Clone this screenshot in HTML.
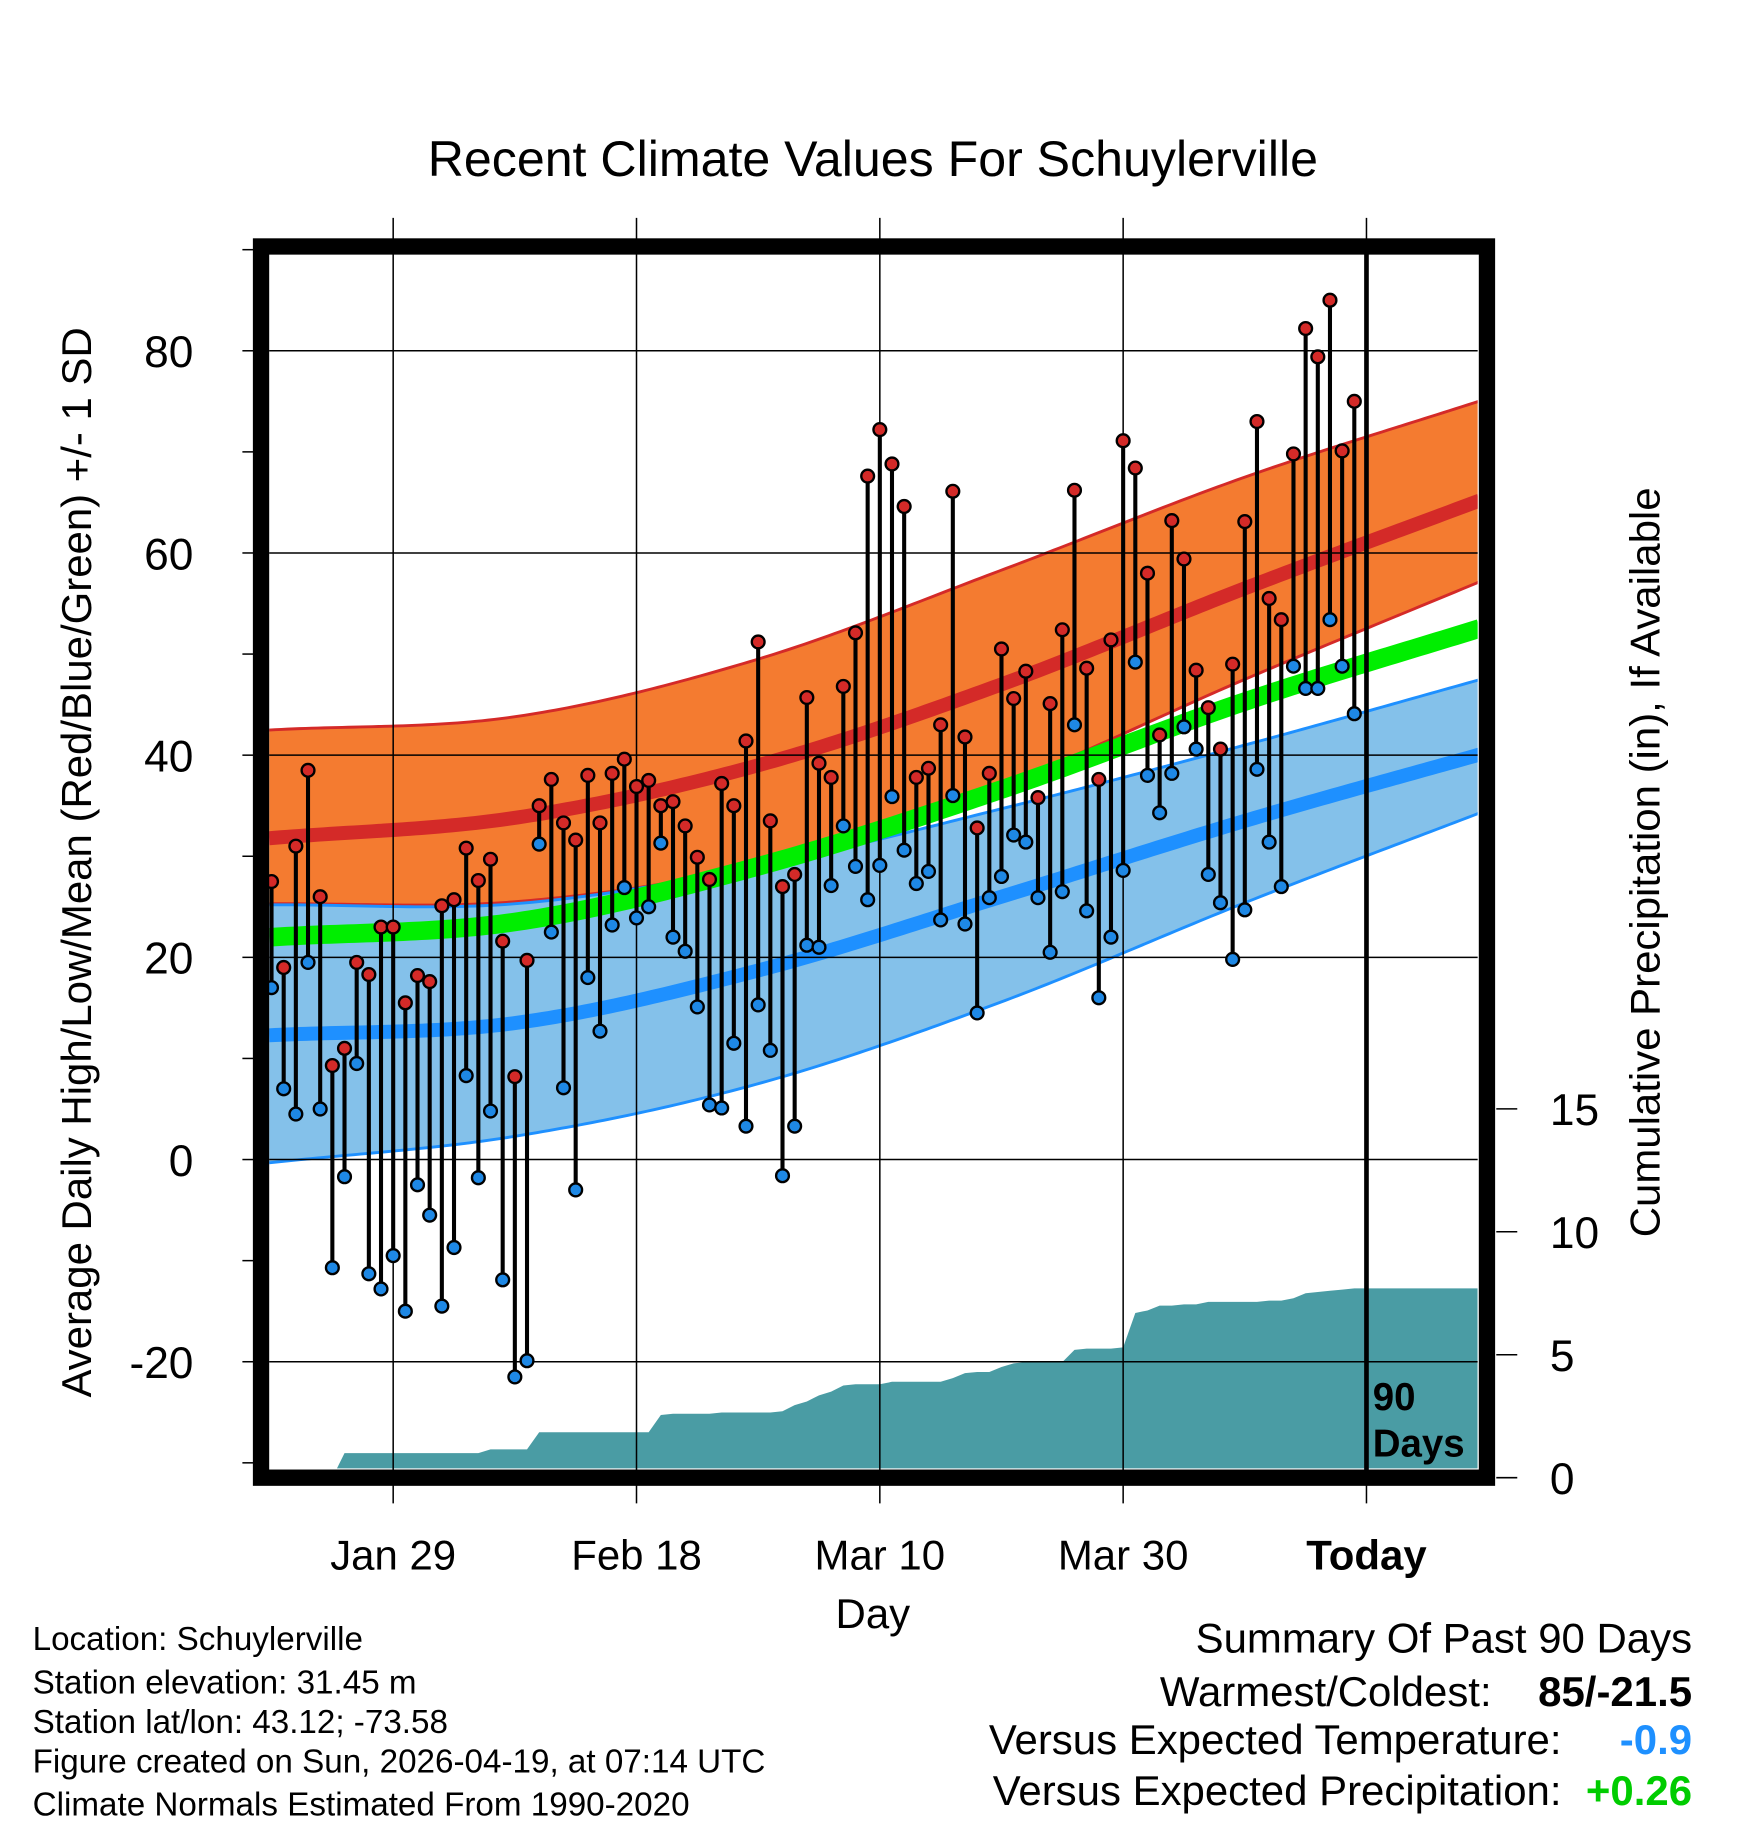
<!DOCTYPE html>
<html><head><meta charset="utf-8"><style>
html,body{margin:0;padding:0;background:#fff}
svg{display:block}
text{font-family:"Liberation Sans",sans-serif}
</style></head><body>
<svg id="chart" width="1748" height="1828" viewBox="0 0 1500 1568.6" preserveAspectRatio="none" xmlns="http://www.w3.org/2000/svg">
<g id="bg"></g>
<g id="marks"></g>
<g id="frame"></g>
<text x="749" y="151" font-size="43" text-anchor="middle">Recent Climate Values For Schuylerville</text>
<text transform="translate(78,740) rotate(-90)" font-size="36" text-anchor="middle">Average Daily High/Low/Mean (Red/Blue/Green) +/- 1 SD</text>
<text transform="translate(1424,740) rotate(-90)" font-size="36" text-anchor="middle">Cumulative Precipitation (in), If Available</text>
<text x="749" y="1397" font-size="36" text-anchor="middle">Day</text>
<text x="1178" y="1210" font-size="33" font-weight="bold">90</text>
<text x="1178" y="1250" font-size="33" font-weight="bold">Days</text>
<g font-size="28.5">
<text x="28" y="1416">Location: Schuylerville</text>
<text x="28" y="1453">Station elevation: 31.45 m</text>
<text x="28" y="1487">Station lat/lon: 43.12; -73.58</text>
<text x="28" y="1521">Figure created on Sun, 2026-04-19, at 07:14 UTC</text>
<text x="28" y="1558">Climate Normals Estimated From 1990-2020</text>
</g>
<g font-size="36">
<text x="1452" y="1418" text-anchor="end">Summary Of Past 90 Days</text>
<text x="1280" y="1464" text-anchor="end">Warmest/Coldest:</text>
<text x="1452" y="1464" text-anchor="end" font-weight="bold">85/-21.5</text>
<text x="1340" y="1505" text-anchor="end">Versus Expected Temperature:</text>
<text x="1452" y="1505" text-anchor="end" font-weight="bold" fill="#1e90ff">-0.9</text>
<text x="1340" y="1549" text-anchor="end">Versus Expected Precipitation:</text>
<text x="1452" y="1549" text-anchor="end" font-weight="bold" fill="#00cc00">+0.26</text>
</g>
</svg>
<script>
const highs=[27.5,19,31,38.5,26,9.3,11,19.5,18.3,23,23,15.5,18.2,17.6,25.1,25.7,30.8,27.6,29.7,21.6,8.2,19.7,35,37.6,33.3,31.6,38,33.3,38.2,39.6,36.9,37.5,35,35.4,33,29.9,27.7,37.2,35,41.4,51.2,33.5,27,28.2,45.7,39.2,37.8,46.8,52.1,67.6,72.2,68.8,64.6,37.8,38.7,43,66.1,41.8,32.8,38.2,50.5,45.6,48.3,35.8,45.1,52.4,66.2,48.6,37.6,51.4,71.1,68.4,58,42,63.2,59.4,48.4,44.7,40.6,49,63.1,73,55.5,53.4,69.8,82.2,79.4,85,70.1,75];
const lows=[17,7,4.5,19.5,5,-10.7,-1.7,9.5,-11.3,-12.8,-9.5,-15,-2.5,-5.5,-14.5,-8.7,8.3,-1.8,4.8,-11.9,-21.5,-19.9,31.2,22.5,7.1,-3,18,12.7,23.2,26.9,23.9,25,31.3,22,20.6,15.1,5.4,5.1,11.5,3.3,15.3,10.8,-1.6,3.3,21.2,21,27.1,33,29,25.7,29.1,35.9,30.6,27.3,28.5,23.7,36,23.3,14.5,25.9,28,32.1,31.4,25.9,20.5,26.5,43,24.6,16,22,28.6,49.2,38,34.3,38.2,42.8,40.6,28.2,25.4,19.8,24.7,38.6,31.4,27,48.8,46.6,46.6,53.4,48.8,44.1];
const precip=[0,0,0,0,0,0,1,1,1,1,1,1,1,1,1,1,1,1,1.15,1.15,1.15,1.15,1.85,1.85,1.85,1.85,1.85,1.85,1.85,1.85,1.85,1.85,2.55,2.6,2.6,2.6,2.6,2.65,2.65,2.65,2.65,2.65,2.7,2.95,3.1,3.35,3.5,3.75,3.8,3.8,3.8,3.9,3.9,3.9,3.9,3.9,4.05,4.25,4.3,4.3,4.5,4.65,4.7,4.7,4.7,4.7,5.2,5.25,5.25,5.25,5.3,6.7,6.8,7,7,7.05,7.05,7.15,7.15,7.15,7.15,7.15,7.2,7.2,7.3,7.5,7.55,7.6,7.65,7.7];
const normDays=[0,20,40,60,80,100];
const highMean=[31.8,33.8,39,47,56.5,65.5];
const highUp=[42.5,43.8,49.5,58.3,67.5,75.3];
const highLo=[25.3,25.5,29.2,37,47.5,57.5];
const avgMean=[22,23.5,29,36.6,45.3,52.8];
const lowMean=[12.3,13.5,18.7,26,33.5,40.3];
const lowUp=[25.2,25.3,29,34.7,41,47.7];
const lowLo=[-0.3,2.3,7.5,15.6,25.4,34.6];
const yTicks=[80,60,40,20,0,-20];
const pTicks=[0,5,10,15];
const xLabels=["Jan 29","Feb 18","Mar 10","Mar 30","Today"];
const xLabelDays=[10,30,50,70,90];

const NS="http://www.w3.org/2000/svg";
const X=d=>233+10.44*d;
const Y=v=>995-8.675*v;
const P=v=>1268-21.1*v;
const L=231,R=1268,T=218,B=1260;
function mk(tag,attrs,parent){const e=document.createElementNS(NS,tag);for(const k in attrs)e.setAttribute(k,attrs[k]);parent.appendChild(e);return e;}
function interp(arr,d){for(let i=0;i<normDays.length-1;i++){if(d<=normDays[i+1]||i===normDays.length-2){const t=(d-normDays[i])/(normDays[i+1]-normDays[i]);
const p1=arr[i],p2=arr[i+1];const p0=i>0?arr[i-1]:2*p1-p2;const p3=i+2<arr.length?arr[i+2]:2*p2-p1;
return 0.5*((2*p1)+(-p0+p2)*t+(2*p0-5*p1+4*p2-p3)*t*t+(-p0+3*p1-3*p2+p3)*t*t*t);}}return arr[arr.length-1];}
function curve(arr){const pts=[];for(let d=-0.2;d<=99.4;d+=0.5)pts.push([X(d),Y(interp(arr,d))]);return pts;}
const bg=document.getElementById('bg'),marks=document.getElementById('marks'),frame=document.getElementById('frame');
const clip=mk('clipPath',{id:'pc'},bg);mk('rect',{x:L,y:T,width:R-L,height:B-T},clip);
const g=mk('g',{'clip-path':'url(#pc)'},bg);
function band(up,lo,fill,stroke,name){const a=curve(up),b=curve(lo).reverse();
const e=mk('path',{d:'M'+a.concat(b).map(p=>p.join(',')).join('L')+'Z',fill:fill},g);


mk('path',{d:'M'+curve(up).map(p=>p.join(',')).join('L'),fill:'none',stroke:stroke,'stroke-width':2.5},g);
mk('path',{d:'M'+curve(lo).map(p=>p.join(',')).join('L'),fill:'none',stroke:stroke,'stroke-width':2.5},g);}
function line(arr,color,w,name){const e=mk('path',{d:'M'+curve(arr).map(p=>p.join(',')).join('L'),fill:'none',stroke:color,'stroke-width':w},g);

}
band(highUp,highLo,'#f47b30','#d42a28','high-sd-band');
band(lowUp,lowLo,'#84c1ea','#1e90ff','low-sd-band');
line(highMean,'#d42a28',12,'high-mean-line');
line(avgMean,'#00ee00',16,'avg-mean-line');
line(lowMean,'#1e90ff',12,'low-mean-line');
let pd='M'+X(0)+','+P(0);
precip.forEach((v,i)=>{pd+='L'+X(i)+','+P(v);});
pd+='L'+R+','+P(precip[precip.length-1])+'L'+R+','+P(0)+'Z';
const pa=mk('path',{d:pd,fill:'#4a9ca4'},g);


yTicks.forEach(v=>{const e=mk('line',{x1:L,x2:R,y1:Y(v),y2:Y(v),stroke:'#000','stroke-width':1.3},bg);


const t=mk('text',{x:166,y:Y(v)+14,'font-size':38,'text-anchor':'end'},bg);t.textContent=v;

});
for(let v=-30;v<=90;v+=10){mk('line',{x1:208,x2:218,y1:Y(v),y2:Y(v),stroke:'#000','stroke-width':1.3},bg);}
xLabelDays.forEach((d,i)=>{const e=mk('line',{x1:X(d),x2:X(d),y1:187,y2:1290,stroke:'#000','stroke-width':1.3},bg);


const t=mk('text',{x:X(d),y:1347,'font-size':36,'text-anchor':'middle'},bg);t.textContent=xLabels[i];
if(i===4)t.setAttribute('font-weight','bold');

});
pTicks.forEach(v=>{mk('line',{x1:1284,x2:1302,y1:P(v),y2:P(v),stroke:'#000','stroke-width':1.3},bg);
const t=mk('text',{x:1330,y:P(v)+14,'font-size':38},bg);t.textContent=v;

});
mk('line',{x1:X(90),x2:X(90),y1:205,y2:1270,stroke:'#000','stroke-width':4},marks);
highs.forEach((h,i)=>{const s=mk('line',{x1:X(i),x2:X(i),y1:Y(h),y2:Y(lows[i]),stroke:'#000','stroke-width':3.5},marks);

});
highs.forEach((h,i)=>{const c=mk('circle',{cx:X(i),cy:Y(h),r:5.5,fill:'#d42a28',stroke:'#000','stroke-width':2},marks);


const c2=mk('circle',{cx:X(i),cy:Y(lows[i]),r:5.5,fill:'#1e88e5',stroke:'#000','stroke-width':2},marks);

});
const fr=mk('rect',{x:224,y:211.5,width:1052,height:1056.5,fill:'none',stroke:'#000','stroke-width':14},frame);


</script>
</body></html>
